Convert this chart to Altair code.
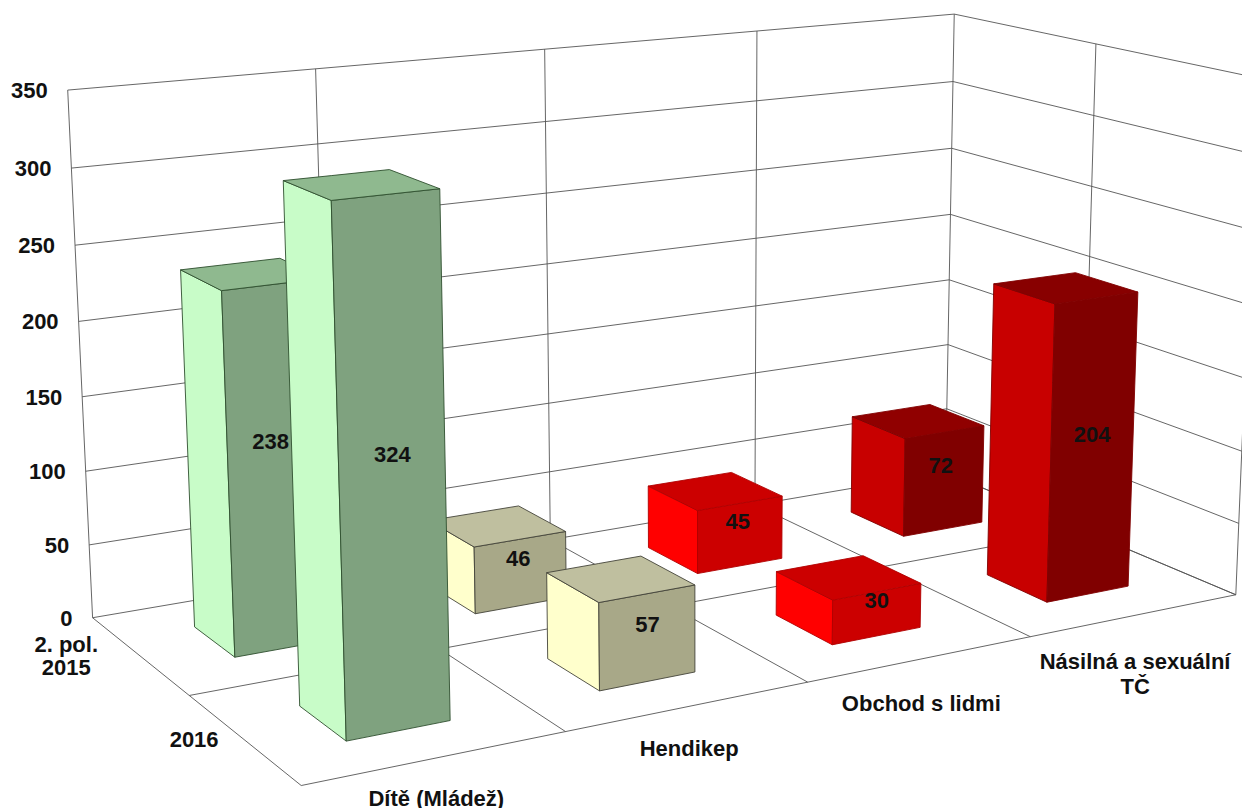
import altair as alt
import numpy as np
import pandas as pd

categories = ["Dítě (Mládež)", "Hendikep", "Obchod s lidmi", ["Násilná a sexuální", "TČ"]]
series = [["2. pol.", "2015"], ["2016"]]
values_2015 = [238, 46, 45, 72]
values_2016 = [324, 57, 30, 204]
value_ticks = [0, 50, 100, 150, 200, 250, 300, 350]

# (side, front, top, outline) per bar
palette_2015 = [("#C8FCC8", "#7FA27F", "#8FB98F", "#2F4F2F"),
                ("#FFFFCC", "#A8A888", "#BFBF9F", "#44443A"),
                ("#FF0000", "#CC0000", "#CC0000", "#B00000"),
                ("#C80000", "#800000", "#900000", "#800000")]
palette_2016 = [("#C8FCC8", "#7FA27F", "#8FB98F", "#2F4F2F"),
                ("#FFFFCC", "#A8A888", "#BFBF9F", "#44443A"),
                ("#FF0000", "#CC0000", "#CC0000", "#B00000"),
                ("#C80000", "#800000", "#880000", "#800000")]

# View of the 3D box: box coordinates (category, depth, value) seen at picture positions
view_box = [(0, 0, 0), (0, 0, 350), (4, 0, 350), (4, 0, 0), (0, 2, 0), (4, 2, 0), (4, 2, 350),
            (0, 1, 0), (1, 0, 350), (2, 0, 350), (3, 0, 350), (4, 1, 350), (1, 2, 0), (2, 2, 0),
            (3, 2, 0), (0, 0, 300), (4, 0, 100), (4, 2, 100)]
view_pic = [(93, 617), (66.5, 89.5), (956, 14), (943, 472), (302, 786), (1237, 595), (1252, 77),
            (190, 695), (315, 69), (546, 50), (758, 31), (1098, 44), (565, 732), (807, 682),
            (1030, 637), (71, 168.5), (947, 345), (1245, 451)]

rows = []
for (c, z, v), (u, w) in zip(view_box, view_pic):
    h = [c, z, v / 100, 1]
    rows.append(h + [0, 0, 0, 0] + [-u * a / 100 for a in h])
    rows.append([0, 0, 0, 0] + h + [-w * a / 100 for a in h])
P = np.linalg.svd(np.array(rows))[2][-1].reshape(3, 4)


def project(c, z, v):
    q = P @ np.array([c, z, v / 100, 1])
    return 100 * q[0] / q[2], 100 * q[1] / q[2]


# Grid
lines = []
def grid(name, a, b):
    for k, p in enumerate((a, b)):
        x, y = project(*p)
        lines.append({"line": name, "k": k, "px": x, "py": y})

for v in value_ticks:
    grid(f"b{v}", (0, 0, v), (4, 0, v))
    grid(f"r{v}", (4, 0, v), (4, 2, v))
for c in range(5):
    grid(f"v{c}", (c, 0, 0), (c, 0, 350))
    grid(f"f{c}", (c, 0, 0), (c, 2, 0))
for z in (1, 2):
    grid(f"rv{z}", (4, z, 0), (4, z, 350))
    grid(f"fz{z}", (0, z, 0), (4, z, 0))


def quad_rows(pid, corners, fill, stroke):
    pts = sorted(project(*p) for p in corners)
    ring = [project(*p) for p in corners]
    out = []
    for x, _ in pts:
        ys = []
        for i in range(4):
            (x1, y1), (x2, y2) = ring[i], ring[(i + 1) % 4]
            if min(x1, x2) - 1e-9 <= x <= max(x1, x2) + 1e-9:
                if abs(x2 - x1) < 1e-9:
                    ys += [y1, y2]
                else:
                    ys.append(y1 + (y2 - y1) * (x - x1) / (x2 - x1))
        out.append({"poly": pid, "px": x, "top": min(ys), "bot": max(ys), "fill": fill, "edge": stroke})
    return out


LO, HI = 0.3, 0.7
polys = []
labels = []
for s, (vals, pal) in enumerate(((values_2015, palette_2015), (values_2016, palette_2016))):
    for c, (v, (side, front, top, edge)) in enumerate(zip(vals, pal)):
        x0, x1, z0, z1 = c + LO, c + HI, s + LO, s + HI
        pid = f"{s:01d}{c:01d}"
        polys += quad_rows(pid + "a", [(x0, z0, 0), (x0, z1, 0), (x0, z1, v), (x0, z0, v)], side, edge)
        polys += quad_rows(pid + "b", [(x0, z1, 0), (x1, z1, 0), (x1, z1, v), (x0, z1, v)], front, edge)
        polys += quad_rows(pid + "c", [(x0, z0, v), (x0, z1, v), (x1, z1, v), (x1, z0, v)], top, edge)
        lx, ly = project(c + 0.5, s + HI, v / 2)
        if s == 0:
            lx, ly = lx - 1 - 0.03 * v, ly - 10 - 0.07 * v
        else:
            ly = ly - 13
        labels.append({"px": lx, "py": ly, "t": str(v)})

ticks = []
for v in value_ticks:
    x, y = project(0, 0, v)
    ticks.append({"px": x - 20, "py": y + 1, "t": str(v)})

cats = []
for c, name in enumerate(categories):
    x, y = project(c + 0.5, 2, 0)
    for i, t in enumerate([name] if isinstance(name, str) else name):
        cats.append({"px": x, "py": y + 41 + 2 * c + 25 * i, "t": t})

sers = []
for s, (name, dx) in enumerate(zip(series, (-73, -49))):
    x, y = project(0, s + 0.5, 0)
    for i, t in enumerate(name):
        sers.append({"px": x + dx, "py": y - 10 + 23 * i if len(name) > 1 else y + 1, "t": t})

X = alt.Scale(domain=[8, 1242], nice=False, zero=False)
Y = alt.Scale(domain=[808, 8], nice=False, zero=False)
ex = alt.X("px:Q", scale=X, axis=None)
ey = alt.Y("py:Q", scale=Y, axis=None)

grid_layer = alt.Chart(pd.DataFrame(lines)).mark_line(strokeWidth=0.9, color="#555555", clip=True).encode(
    x=ex, y=ey, detail="line:N", order="k:Q")

bars_layer = alt.Chart(pd.DataFrame(polys)).mark_area(strokeWidth=0.9, interpolate="linear").encode(
    x=ex,
    y=alt.Y("top:Q", scale=Y, axis=None),
    y2="bot:Q",
    detail="poly:N",
    fill=alt.Fill("fill:N", scale=None),
    stroke=alt.Stroke("edge:N", scale=None),
)

FONT = dict(font="Liberation Sans", fontWeight="bold", fontSize=22, color="#111111")


def text_layer(rows_, align):
    return alt.Chart(pd.DataFrame(rows_)).mark_text(align=align, baseline="middle", **FONT).encode(
        x=ex, y=ey, text="t:N")


chart = alt.layer(
    grid_layer, bars_layer,
    text_layer(labels, "center"), text_layer(ticks, "right"),
    text_layer(cats, "center"), text_layer(sers, "center"),
).properties(width=1234, height=800, background="white", padding=0,
             autosize=alt.AutoSizeParams(type="none")
).configure_view(stroke=None)

chart.save("out.html", embed_options={"renderer": "svg", "actions": False})
